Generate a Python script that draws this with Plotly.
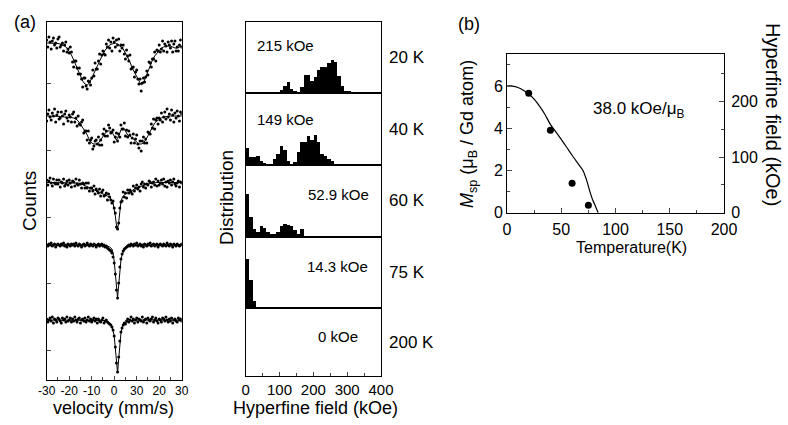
import plotly.graph_objects as go

W, H = 788, 425
FONT = "Liberation Sans, Arial, sans-serif"

# ---------------- (a) Mossbauer spectra ----------------
velocity = [v / 2 for v in range(-60, 61)]          # mm/s, step 0.5
fit_velocity = list(range(-30, 0)) + [-0.5, 0, 0.5, 1, 1.5, 2, 2.5, 3, 3.5] + list(range(4, 31))

counts_20K = [103, 96, 106, 101, 94, 102, 105, 98, 100, 95,
              104, 106, 96, 98, 100, 92, 98, 101, 91, 94,
              90, 96, 91, 81, 76, 82, 82, 75, 69, 75,
              69, 64, 56, 65, 65, 57, 54, 62, 61, 58,
              65, 73, 67, 80, 74, 74, 82, 89, 79, 88,
              92, 89, 88, 99, 96, 103, 95, 101, 92, 105,
              101, 96, 103, 98, 104, 92, 98, 95, 98, 89,
              84, 93, 87, 82, 88, 74, 75, 76, 66, 71,
              73, 64, 59, 64, 52, 60, 65, 61, 66, 72,
              68, 81, 80, 76, 84, 84, 91, 82, 93, 92,
              98, 91, 94, 102, 92, 99, 97, 91, 101, 98,
              95, 102, 91, 99, 102, 92, 96, 92, 98, 103,
              96]
counts_40K = [95, 102, 106, 99, 96, 103, 100, 107, 94, 101,
              104, 97, 98, 104, 100, 92, 102, 105, 98, 95,
              101, 99, 94, 102, 104, 94, 98, 90, 100, 92,
              91, 94, 96, 83, 85, 85, 76, 85, 73, 76,
              78, 67, 70, 75, 76, 72, 79, 71, 76, 71,
              82, 87, 80, 85, 80, 91, 88, 83, 84, 86,
              74, 79, 83, 75, 82, 79, 91, 87, 87, 93,
              80, 86, 79, 85, 81, 73, 78, 82, 73, 77,
              81, 72, 68, 75, 65, 75, 79, 73, 77, 73,
              84, 83, 82, 92, 88, 97, 87, 96, 98, 92,
              98, 96, 103, 94, 99, 104, 97, 107, 99, 102,
              96, 106, 101, 94, 103, 98, 105, 100, 95, 104,
              102]
counts_60K = [102, 97, 101, 104, 99, 96, 103, 99, 98, 102,
              98, 102, 95, 100, 99, 103, 96, 98, 101, 97,
              102, 99, 95, 101, 100, 96, 103, 98, 97, 102,
              98, 94, 99, 98, 94, 99, 94, 99, 91, 94,
              94, 91, 96, 88, 93, 91, 89, 93, 86, 90,
              92, 86, 87, 89, 82, 88, 85, 82, 79, 81,
              74, 69, 55, 53, 59, 74, 80, 81, 90, 85,
              89, 84, 92, 89, 92, 90, 88, 96, 91, 94,
              97, 93, 95, 91, 98, 100, 95, 98, 94, 98,
              97, 101, 100, 95, 99, 100, 97, 103, 96, 101,
              97, 99, 102, 98, 103, 96, 100, 95, 101, 99,
              102, 97, 100, 103, 98, 96, 99, 101, 95, 100,
              99]
counts_75K = [100, 99, 101, 100, 102, 99, 100, 101, 98, 100, 101, 100, 99, 101, 100, 102, 99, 100, 98, 101,
              100, 99, 101, 100, 101, 99, 102, 100, 99, 101, 100, 98, 100, 101, 99, 100, 102, 100, 99, 101,
              100, 99, 101, 100, 98, 100, 101, 99, 100, 101, 99, 100, 98, 99,
              97, 96, 95, 94, 92, 88, 82, 71, 55, 47, 62, 78, 86, 91, 94, 96, 97,
              98, 99, 100, 99, 101, 100, 99, 101, 100, 102, 99, 100, 101, 99, 100, 98, 101, 100, 99, 101,
              100, 102, 99, 100, 101, 99, 100, 101, 98, 100, 101, 100, 99, 101, 100, 99, 102, 100, 99, 101,
              100, 98, 101, 100, 99, 101, 100, 99, 100, 101]
counts_200K = [101, 98, 100, 102, 99, 103, 97, 101, 100, 98, 102, 101, 99, 97, 102, 100, 101, 98, 103, 99,
               100, 102, 98, 101, 99, 103, 100, 98, 101, 102, 97, 100, 101, 99, 102, 98, 100, 103, 99, 101,
               98, 100, 102, 99, 101, 97, 101, 99, 98, 100, 102, 97, 99, 100,
               98, 97, 96, 95, 93, 90, 84, 73, 57, 48, 63, 79, 88, 92, 95, 97, 96,
               99, 101, 98, 100, 103, 99, 101, 97, 100, 102, 98, 101, 100, 99, 103, 98, 100, 101, 97, 102,
               100, 99, 101, 103, 98, 100, 102, 99, 97, 101, 100, 98, 102, 101, 99, 103, 100, 98, 101, 99,
               102, 97, 100, 101, 99, 98, 102, 100, 101, 99]

fit_20K = [100, 100, 100, 100, 100, 99.5, 99, 98, 97, 95, 92, 88, 83, 78, 72, 67, 62, 59, 58, 60,
           65, 70, 75, 80, 85, 89, 93, 96, 98, 99,
           99.5, 100, 99.8, 99.5, 99, 98, 97, 96, 95,
           94, 90, 86, 81, 75, 71, 67, 62, 58, 60, 66, 72, 78, 83, 87, 90, 93, 95, 96, 97,
           97, 97, 96, 95, 95, 96, 97]
fit_40K = [100, 100, 100, 100, 100, 100, 99.5, 99.5, 99, 99, 99, 98.5, 98, 97, 95, 92, 89, 85, 81, 76,
           73, 72, 72, 73, 76, 80, 83, 85, 85, 84,
           82, 80, 78, 76, 78, 80, 83, 86, 87,
           88, 85, 81, 80, 78, 76, 74, 72, 72, 73, 76, 80, 85, 89, 93, 95, 97, 98, 99, 99.5,
           100, 100, 100, 100, 100, 100, 100]
fit_60K = [99.5, 99.5, 99.5, 99.5, 99.5, 99.5, 99.5, 99.5, 99.5, 99.5, 99.5, 99.5, 99.5, 99.5,
           99, 98.5, 97.5, 96.5, 95.5, 94.5, 93.5, 92.5, 91.5, 90.5, 89.5, 88.5, 87.5, 86, 84.5, 82,
           79, 74, 66, 57, 52, 60, 72, 80, 84,
           86, 88, 89, 90, 91.5, 93, 94, 95, 96, 97, 97.5, 98, 98.5, 99, 99, 99.5, 99.5,
           99.5, 99.5, 99.5, 99.5, 99.5, 99.5, 99.5, 99.5, 99.5, 99.5]
fit_75K = [100, 100, 100, 100, 100, 100, 100, 100, 100, 100, 100, 100, 100, 100, 100, 100, 100, 100,
           100, 100, 100, 100, 100, 100, 100, 100, 99.5, 99, 98, 96,
           92, 84, 72, 56, 47, 60, 76, 85, 90,
           93, 96.5, 98, 99, 99.5, 100, 100, 100, 100, 100, 100, 100, 100, 100, 100, 100, 100,
           100, 100, 100, 100, 100, 100, 100, 100, 100, 100]
fit_200K = [100, 100, 100, 100, 100, 100, 100, 100, 100, 100, 100, 100, 100, 100, 100, 100, 100, 100,
            100, 100, 100, 100, 100, 100, 100, 100, 99.5, 98.5, 97, 94,
            90, 84, 72, 56, 47, 61, 78, 87, 92,
            95, 97.5, 98.5, 99, 99.5, 100, 100, 100, 100, 100, 100, 100, 100, 100, 100, 100, 100,
            100, 100, 100, 100, 100, 100, 100, 100, 100, 100]

temperatures = ["20 K", "40 K", "60 K", "75 K", "200 K"]
mean_fields = ["215 kOe", "149 kOe", "52.9 kOe", "14.3 kOe", "0 kOe"]

# ---------------- hyperfine field distributions ----------------
field_bins = list(range(5, 310, 10))   # bin centres, kOe
dist_20K = [0, 3, 3, 0, 0, 0, 0, 0, 0, 0, 10, 22, 35, 13, 6, 0, 20, 56, 56, 38, 50, 70, 78, 78, 90, 100,
            93, 53, 23, 8, 6]
dist_40K = [50, 23, 23, 26, 13, 5, 0, 0, 18, 33, 58, 46, 13, 0, 10, 38, 68, 70, 88, 76, 91, 70, 33, 28,
            18, 13, 0, 0, 0, 0, 0]
dist_60K = [128, 58, 23, 13, 30, 26, 13, 8, 6, 13, 32, 36, 34, 32, 18, 8, 23, 0, 0, 0, 0, 0, 0, 0,
            0, 0, 0, 0, 0, 0, 0]
dist_75K = [150, 85, 23, 0, 0, 0, 4, 4, 2, 0, 0, 0, 0, 0, 0, 0, 0, 0, 0, 0, 0, 0, 0, 0,
            0, 0, 0, 0, 0, 0, 0]
dist_200K = [0, 0, 0, 0, 0, 0, 0, 0, 0, 0, 0, 0, 0, 0, 0, 0, 0, 0, 0, 0, 0, 0, 0, 0,
             0, 0, 0, 0, 0, 0, 0]

# ---------------- (b) Msp vs temperature ----------------
temp_pts = [20, 40, 60, 75]
msp_pts = [5.65, 3.9, 1.4, 0.35]
temp_curve = [0, 5, 10, 15, 20, 25, 30, 35, 40, 45, 50, 55, 60, 65, 70, 73, 76, 79, 82, 84]
msp_curve = [6.0, 5.99, 5.93, 5.8, 5.62, 5.38, 5.05, 4.65, 4.18, 3.83, 3.47, 3.1, 2.72, 2.36, 2.0,
             1.6, 1.07, 0.6, 0.25, 0.0]
hf_per_mu = 38.0


def px(x):
    return x / W


def py(y):
    return 1 - y / H


spectra = [counts_20K, counts_40K, counts_60K, counts_75K, counts_200K]
fits = [fit_20K, fit_40K, fit_60K, fit_75K, fit_200K]
dists = [dist_20K, dist_40K, dist_60K, dist_75K, dist_200K]
offsets = [337, 264, 198, 135, 60]

fig = go.Figure()

for counts, fit, off in zip(spectra, fits, offsets):
    fig.add_trace(go.Scatter(x=velocity, y=[c - 100 + off for c in counts], mode="markers",
                             marker=dict(color="black", size=3), xaxis="x", yaxis="y"))
    fig.add_trace(go.Scatter(x=fit_velocity, y=[c - 100 + off for c in fit], mode="lines",
                             line=dict(color="black", width=1), xaxis="x", yaxis="y"))

panel_top = [22, 93.3, 165.3, 236.7, 308.3]
panel_bot = [93.3, 165.3, 236.7, 308.3, 376]
label_pos = [(117, 143), (117, 138), (275, 126), (272, 126), (273, 119)]

axis_common = dict(showline=True, linecolor="black", linewidth=1, mirror=True,
                   showgrid=False, zeroline=False, automargin=False)

layout = dict(
    width=W, height=H, autosize=False, margin=dict(l=0, r=0, t=0, b=0, pad=0),
    paper_bgcolor="white", plot_bgcolor="white", showlegend=False,
    font=dict(family=FONT, color="black", size=14),
    bargap=0,
    xaxis=dict(domain=[px(46.7), px(181.7)], range=[-30, 30], anchor="y",
               tickvals=[-30, -20, -10, 0, 10, 20, 30],
               ticktext=["-30", "-20", "-10", "0", "30", "20", "30"],
               ticks="inside", ticklen=4, tickfont=dict(size=12),
               minor=dict(tickvals=[-25, -15, -5, 5, 15, 25], ticks="inside", ticklen=3),
               **axis_common),
    yaxis=dict(domain=[py(380), py(22)], range=[0, 358], anchor="x",
               tickvals=[30, 97, 163, 230, 297], ticks="inside", ticklen=4,
               showticklabels=False, **axis_common),
)

annotations = []
for i, dist in enumerate(dists):
    n = i + 2
    xa, ya = "x%d" % n, "y%d" % n
    fig.add_trace(go.Bar(x=field_bins, y=dist, width=10, marker=dict(color="black", line=dict(width=0)),
                         xaxis=xa, yaxis=ya))
    hpx = panel_bot[i] - panel_top[i]
    last = i == 4
    layout["xaxis%d" % n] = dict(domain=[px(245.7), px(381)], range=[0, 400], anchor=ya,
                                 tickvals=[0, 100, 200, 300, 400], showticklabels=last,
                                 ticks="inside" if last else "", ticklen=4,
                                 minor=dict(tickvals=[50, 150, 250, 350], ticks="inside" if last else "",
                                            ticklen=3),
                                 tickfont=dict(size=15), **axis_common)
    layout["yaxis%d" % n] = dict(domain=[py(panel_bot[i]), py(panel_top[i])], range=[0, hpx * 3],
                                 anchor=xa, showticklabels=False, **axis_common)
    annotations.append(dict(x=label_pos[i][0], y=label_pos[i][1], xref=xa, yref=ya, text=mean_fields[i],
                            font=dict(size=15)))
    annotations.append(dict(x=px(387), y=py((panel_top[i] + panel_bot[i]) / 2), text=temperatures[i],
                            xanchor="left", font=dict(size=17)))

# (b)
fig.add_trace(go.Scatter(x=temp_curve, y=msp_curve, mode="lines",
                         line=dict(color="black", width=1.2, shape="spline", smoothing=0.8),
                         xaxis="x7", yaxis="y7"))
fig.add_trace(go.Scatter(x=temp_pts, y=msp_pts, mode="markers", marker=dict(color="black", size=7),
                         xaxis="x7", yaxis="y7"))
fig.add_trace(go.Scatter(x=[0], y=[0], mode="markers", marker=dict(opacity=0), xaxis="x7", yaxis="y8",
                         hoverinfo="skip"))

layout["xaxis7"] = dict(domain=[px(507), px(724)], range=[0, 200], anchor="y7",
                        tickvals=[0, 50, 100, 150, 200], ticks="inside", ticklen=5,
                        minor=dict(tickvals=[25, 75, 125, 175], ticks="inside", ticklen=3),
                        tickfont=dict(size=16), ticklabelstandoff=2, **axis_common)
layout["yaxis7"] = dict(domain=[py(212.7), py(54.3)], range=[0, 7.5], anchor="x7",
                        tickvals=[0, 2, 4, 6], ticks="inside", ticklen=5,
                        minor=dict(tickvals=[1, 3, 5, 7], ticks="inside", ticklen=3),
                        tickfont=dict(size=16), showline=True, linecolor="black", linewidth=1,
                        mirror=False, showgrid=False, zeroline=False, automargin=False)
layout["yaxis8"] = dict(overlaying="y7", side="right", anchor="x7", range=[0, 7.5 * hf_per_mu],
                        tickvals=[0, 100, 200], ticks="inside", ticklen=5,
                        minor=dict(tickvals=[50, 150, 250], ticks="inside", ticklen=3),
                        tickfont=dict(size=16), ticklabelstandoff=3, showline=True, linecolor="black",
                        linewidth=1, showgrid=False, zeroline=False, automargin=False)

annotations += [
    dict(x=px(25), y=py(22), text="(a)", font=dict(size=18)),
    dict(x=px(469), y=py(24), text="(b)", font=dict(size=18)),
    dict(x=px(114), y=py(408), text="velocity (mm/s)", font=dict(size=18)),
    dict(x=px(315), y=py(408), text="Hyperfine field (kOe)", font=dict(size=18)),
    dict(x=px(30), y=py(201), text="Counts", textangle=-90, font=dict(size=19)),
    dict(x=px(227), y=py(198), text="Distribution", textangle=-90, font=dict(size=19)),
    dict(x=px(631), y=py(247), text="Temperature(K)", font=dict(size=16)),
    dict(x=px(468), y=py(134), text="<i>M</i><sub>sp</sub> (μ<sub>B</sub> / Gd atom)", textangle=-90,
         font=dict(size=18)),
    dict(x=px(773), y=py(114), text="Hyperfine field (kOe)", textangle=90, font=dict(size=20)),
    dict(x=px(639), y=py(110), text="38.0 kOe/μ<sub>B</sub>", font=dict(size=17)),
]
for a in annotations:
    a.setdefault("xref", "paper")
    a.setdefault("yref", "paper")
    a.setdefault("showarrow", False)
    a.setdefault("xanchor", "center")
    a.setdefault("yanchor", "middle")

layout["annotations"] = annotations
fig.update_layout(**layout)

# page body has a default 8px margin; drop it so the figure sits at the window origin
fig.write_html("out.html", config={"displayModeBar": False},
               post_script="document.body.style.margin='0';document.body.style.overflow='hidden';")
